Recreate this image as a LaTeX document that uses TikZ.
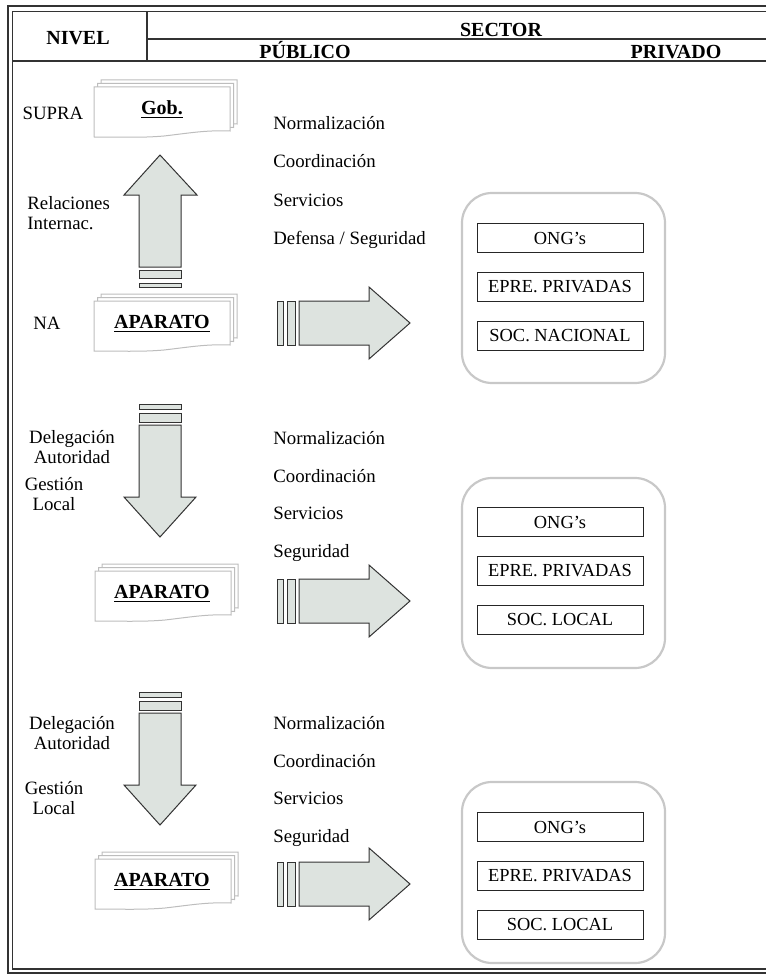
\documentclass[tikz,border=0pt]{standalone}
\usepackage{fontspec}
\setmainfont{Liberation Serif}
\usetikzlibrary{positioning}

\definecolor{framegray}{HTML}{333333}
\definecolor{arrowfill}{HTML}{DDE3DF}
\definecolor{sheetgray}{HTML}{BDBDBD}
\definecolor{groupgray}{HTML}{C8C8C8}

\tikzset{
  frame/.style={draw=framegray, line width=0.6pt},
  hdr/.style={font=\fontsize{10}{12}\selectfont\bfseries, inner sep=0, anchor=base},
  lbl/.style={font=\fontsize{9.4}{10}\selectfont, inner sep=0, align=center},
  item/.style={font=\fontsize{9.4}{10}\selectfont, inner sep=0, anchor=base west},
  entbox/.style={draw=black!85, line width=0.5pt, minimum width=83pt,
    minimum height=14.5pt, inner sep=0, font=\fontsize{9.2}{10}\selectfont},
  groupbox/.style={draw=groupgray, line width=1.1pt, rounded corners=15pt},
  blockarrow/.style={draw=black!80, fill=arrowfill, line width=0.5pt},
  sheet/.style={draw=sheetgray, fill=white, line width=0.5pt},
  pics/docstack/.style={code={
    \foreach \d in {7,3.5,0}
      \path[sheet,shift={(\d,-\d)}] (0,0) -- (136,0) -- (136,44)
        .. controls (112,43) and (96,46) .. (70,49)
        .. controls (48,51) and (22,50) .. (0,50) -- cycle;
  }},
  pics/downarrow/.style={code={
    \draw[blockarrow] (-21,0) rectangle (21,5);
    \draw[blockarrow] (-21,9) rectangle (21,18);
    \draw[blockarrow] (-21,21) -- (-21,93) -- (-36,93) -- (0,133)
      -- (36,93) -- (21,93) -- (21,21) -- cycle;
  }},
  pics/rightarrow/.style={code={
    \draw[blockarrow] (0,-22) rectangle (6,22);
    \draw[blockarrow] (10,-22) rectangle (18,22);
    \draw[blockarrow] (22,-22) -- (92,-22) -- (92,-36) -- (133,0)
      -- (92,36) -- (92,22) -- (22,22) -- cycle;
  }},
}

\begin{document}
\begin{tikzpicture}[x=0.5pt,y=-0.5pt]
  \useasboundingbox (0,0) rectangle (766,974);
  %%%%%%%%%%%%%%% marco y cabecera
  \draw[frame] (766,6) -- (8,6) -- (8,973) -- (766,973);
  \draw[frame] (766,11.5) -- (12.5,11.5) -- (12.5,969) -- (766,969);
  \draw[frame] (12.5,61) -- (766,61);
  \draw[frame] (147,39) -- (766,39);
  \draw[frame] (147,11.5) -- (147,61);
  \node[hdr] (nivel) at (78,45) {NIVEL};
  \node[hdr] (sector) at (501,37) {SECTOR};
  \node[hdr] (publico) at (305,59) {PÚBLICO};
  \node[hdr] (privado) at (676,59) {PRIVADO};
  %%%%%%%%%%%%%%% supra / nacional
  \pic at (94,87) {docstack};
  \node[hdr] (gob) at (162,114) {\underline{Gob.}};
  \node[lbl] (supra) at (53,113) {SUPRA};
  \draw[blockarrow] (139,283) rectangle (181,287);
  \draw[blockarrow] (139,270) rectangle (181,278);
  \draw[blockarrow] (139,267) -- (139,195) -- (124,195) -- (160,155)
    -- (197,195) -- (181,195) -- (181,267) -- cycle;
  \node[lbl, align=left, anchor=west] (relac) at (27,213) {Relaciones\\Internac.};
  \pic at (94,301) {docstack};
  \node[hdr] (aparato1) at (162,328) {\underline{APARATO}};
  \node[lbl] (na) at (47,323) {NA};
  \node[item] (norm1) at (273,130) {Normalización};
  \node[item] (coord1) at (273,168) {Coordinación};
  \node[item] (serv1) at (273,206) {Servicios};
  \node[item] (seg1) at (273,244) {Defensa / Seguridad};
  \pic at (277,323) {rightarrow};
  \draw[groupbox] (462,193) rectangle (665,383);
  \node[entbox] (ong1) at (560,238) {ONG’s};
  \node[entbox, below=9.5pt of ong1] (epre1) {EPRE. PRIVADAS};
  \node[entbox, below=9.5pt of epre1] (soc1) {SOC. NACIONAL};
  %%%%%%%%%%%%%%% local (1)
  \pic at (160,404) {downarrow};
  \node[lbl] (deleg2) at (72,447) {Delegación\\Autoridad};
  \node[lbl] (gest2) at (54,494) {Gestión\\Local};
  \pic at (95,571) {docstack};
  \node[hdr] (aparato2) at (162,598) {\underline{APARATO}};
  \node[item] (norm2) at (273,444) {Normalización};
  \node[item] (coord2) at (273,482) {Coordinación};
  \node[item] (serv2) at (273,519) {Servicios};
  \node[item] (seg2) at (273,557) {Seguridad};
  \pic at (277,601) {rightarrow};
  \draw[groupbox] (462,478) rectangle (665,668);
  \node[entbox] (ong2) at (560,522) {ONG’s};
  \node[entbox, below=9.5pt of ong2] (epre2) {EPRE. PRIVADAS};
  \node[entbox, below=9.5pt of epre2] (soc2) {SOC. LOCAL};
  %%%%%%%%%%%%%%% local (2)
  \pic at (160,692) {downarrow};
  \node[lbl] (deleg3) at (72,733) {Delegación\\Autoridad};
  \node[lbl] (gest3) at (54,798) {Gestión\\Local};
  \pic at (95,859) {docstack};
  \node[hdr] (aparato3) at (162,886) {\underline{APARATO}};
  \node[item] (norm3) at (273,729) {Normalización};
  \node[item] (coord3) at (273,767) {Coordinación};
  \node[item] (serv3) at (273,804) {Servicios};
  \node[item] (seg3) at (273,842) {Seguridad};
  \pic at (277,884) {rightarrow};
  \draw[groupbox] (462,782) rectangle (665,963);
  \node[entbox] (ong3) at (560,827) {ONG’s};
  \node[entbox, below=9.5pt of ong3] (epre3) {EPRE. PRIVADAS};
  \node[entbox, below=9.5pt of epre3] (soc3) {SOC. LOCAL};
\end{tikzpicture}
\end{document}
